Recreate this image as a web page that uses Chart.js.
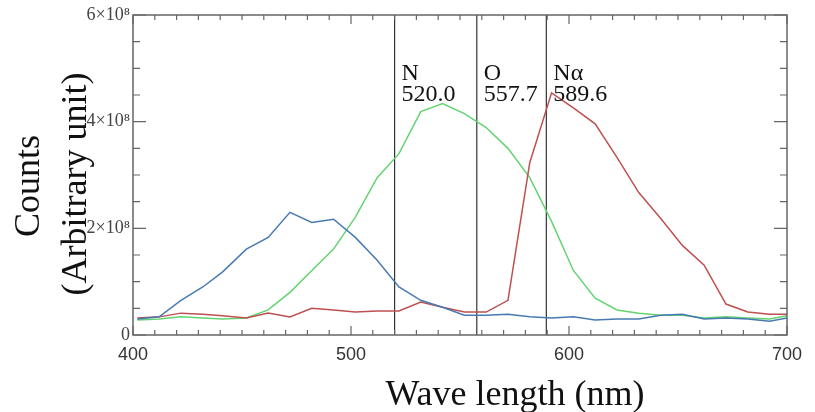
<!DOCTYPE html>
<html>
<head>
<meta charset="utf-8">
<script src="https://cdn.jsdelivr.net/npm/chart.js@4.4.1/dist/chart.umd.min.js"></script>
<style>
  html, body { margin: 0; padding: 0; background: #fff; }
  #wrap { width: 815px; height: 412px; position: relative; }
</style>
</head>
<body>
<div id="wrap"><canvas id="canvas"></canvas></div>
<script>
// wavelength samples (nm) and counts in units of 1e8
var wavelengths = [402, 412, 422, 432, 441, 452, 462, 472, 482, 492, 502, 512, 522, 532, 542, 552,
                   562, 572, 582, 592, 602, 612, 622, 632, 642, 652, 662, 672, 682, 692, 700];
var blueCounts  = [0.30, 0.34, 0.65, 0.90, 1.18, 1.61, 1.83, 2.30, 2.11, 2.17, 1.83, 1.40, 0.90, 0.65, 0.52, 0.37,
                   0.37, 0.39, 0.34, 0.32, 0.34, 0.28, 0.30, 0.30, 0.37, 0.39, 0.30, 0.32, 0.30, 0.26, 0.32];
var greenCounts = [0.28, 0.30, 0.34, 0.32, 0.30, 0.32, 0.47, 0.80, 1.21, 1.61, 2.21, 2.95, 3.40, 4.19, 4.34, 4.15,
                   3.89, 3.50, 2.95, 2.13, 1.21, 0.69, 0.47, 0.41, 0.37, 0.37, 0.32, 0.34, 0.32, 0.30, 0.36];
var redCounts   = [0.32, 0.34, 0.41, 0.39, 0.36, 0.32, 0.41, 0.34, 0.50, 0.47, 0.43, 0.45, 0.45, 0.62, 0.52, 0.43,
                   0.43, 0.65, 3.23, 4.54, 4.26, 3.96, 3.33, 2.67, 2.19, 1.68, 1.31, 0.58, 0.43, 0.39, 0.39];

var lineWavelengths = [520.0, 557.7, 589.6];
var lineNames = ['N', 'O', 'N\u03b1'];

var xTicks = [400, 500, 600, 700];
var yTicks = [0, 2, 4, 6];

function toPoints(ys) {
    return wavelengths.map(function (w, i) { return { x: w, y: ys[i] }; });
}

var datasets = [
    { data: toPoints(blueCounts), borderColor: 'rgb(72,122,178)', borderWidth: 1.5 },
    { data: toPoints(redCounts), borderColor: 'rgb(190,80,80)', borderWidth: 1.5 },
    { data: toPoints(greenCounts), borderColor: 'rgb(100,212,112)', borderWidth: 1.5 }
];
lineWavelengths.forEach(function (w) {
    datasets.push({ data: [{ x: w, y: yTicks[0] }, { x: w, y: yTicks[yTicks.length - 1] }],
                    borderColor: '#333', borderWidth: 1.2 });
});

// frame with inward ticks on all four sides
var frame = {
    id: 'frame',
    afterDatasetsDraw: function (chart) {
        var c = chart.ctx, a = chart.chartArea;
        var xs = chart.scales.x, ys = chart.scales.y;
        c.save();
        c.strokeStyle = '#666';
        c.lineWidth = 1.5;
        c.strokeRect(a.left, a.top, a.right - a.left, a.bottom - a.top);
        c.lineWidth = 1.2;
        c.beginPath();
        for (var w = 400; w <= 700; w += 10) {
            var px = xs.getPixelForValue(w);
            var len = (w % 100 === 0) ? 9 : 5;
            c.moveTo(px, a.bottom); c.lineTo(px, a.bottom - len);
            c.moveTo(px, a.top); c.lineTo(px, a.top + len);
        }
        for (var v = 0; v <= 6; v += 0.5) {
            var py = ys.getPixelForValue(v);
            var l2 = (v % 2 === 0) ? 13 : 7;
            c.moveTo(a.left, py); c.lineTo(a.left + l2, py);
            c.moveTo(a.right, py); c.lineTo(a.right - l2, py);
        }
        c.stroke();

        // emission line labels
        c.fillStyle = '#111';
        c.font = '24px "Liberation Serif", "Times New Roman", serif';
        c.textAlign = 'left';
        c.textBaseline = 'alphabetic';
        lineWavelengths.forEach(function (w, i) {
            var px = xs.getPixelForValue(w) + 7;
            c.fillText(lineNames[i], px, 80);
            c.fillText(w.toFixed(1), px, 101);
        });

        // axis titles
        c.font = '36px "Liberation Serif", "Times New Roman", serif';
        c.textAlign = 'center';
        c.fillText('Wave length (nm)', 515, 405);
        c.save();
        c.translate(30, 186);
        c.rotate(-Math.PI / 2);
        c.textBaseline = 'middle';
        c.fillText('Counts', 0, 0);
        c.restore();
        c.save();
        c.translate(77, 184);
        c.rotate(-Math.PI / 2);
        c.textBaseline = 'middle';
        c.fillText('(Arbitrary unit)', 0, 0);
        c.restore();
        c.restore();
    }
};

var ctx = document.getElementById('canvas');
var myChart = new Chart(ctx, {
    type: 'line',
    data: { datasets: datasets },
    options: {
        responsive: true,
        maintainAspectRatio: false,
        animation: false,
        layout: { padding: { top: 15, right: 28, left: 0, bottom: 0 } },
        elements: { point: { radius: 0 }, line: { tension: 0, fill: false } },
        plugins: { legend: { display: false }, tooltip: { enabled: false } },
        scales: {
            x: {
                type: 'linear',
                min: 400,
                max: 700,
                grid: { display: false, drawTicks: false },
                border: { display: false },
                afterBuildTicks: function (scale) {
                    scale.ticks = xTicks.map(function (v) { return { value: v }; });
                },
                afterFit: function (scale) { scale.height = 77; },
                ticks: {
                    padding: 9,
                    color: '#333',
                    maxRotation: 0,
                    autoSkip: false,
                    font: { family: '"Liberation Sans", Arial, sans-serif', size: 18 }
                }
            },
            y: {
                min: 0,
                max: 6,
                grid: { display: false, drawTicks: false },
                border: { display: false },
                afterBuildTicks: function (scale) {
                    scale.ticks = yTicks.map(function (v) { return { value: v }; });
                },
                afterFit: function (scale) { scale.width = 133; },
                ticks: {
                    padding: 3,
                    color: '#444',
                    font: { family: '"Liberation Serif", "Times New Roman", serif', size: 18 },
                    callback: function (v) { return v === 0 ? '0' : v + '\u00d710\u2078'; }
                }
            }
        }
    },
    plugins: [frame]
});
</script>
</body>
</html>
